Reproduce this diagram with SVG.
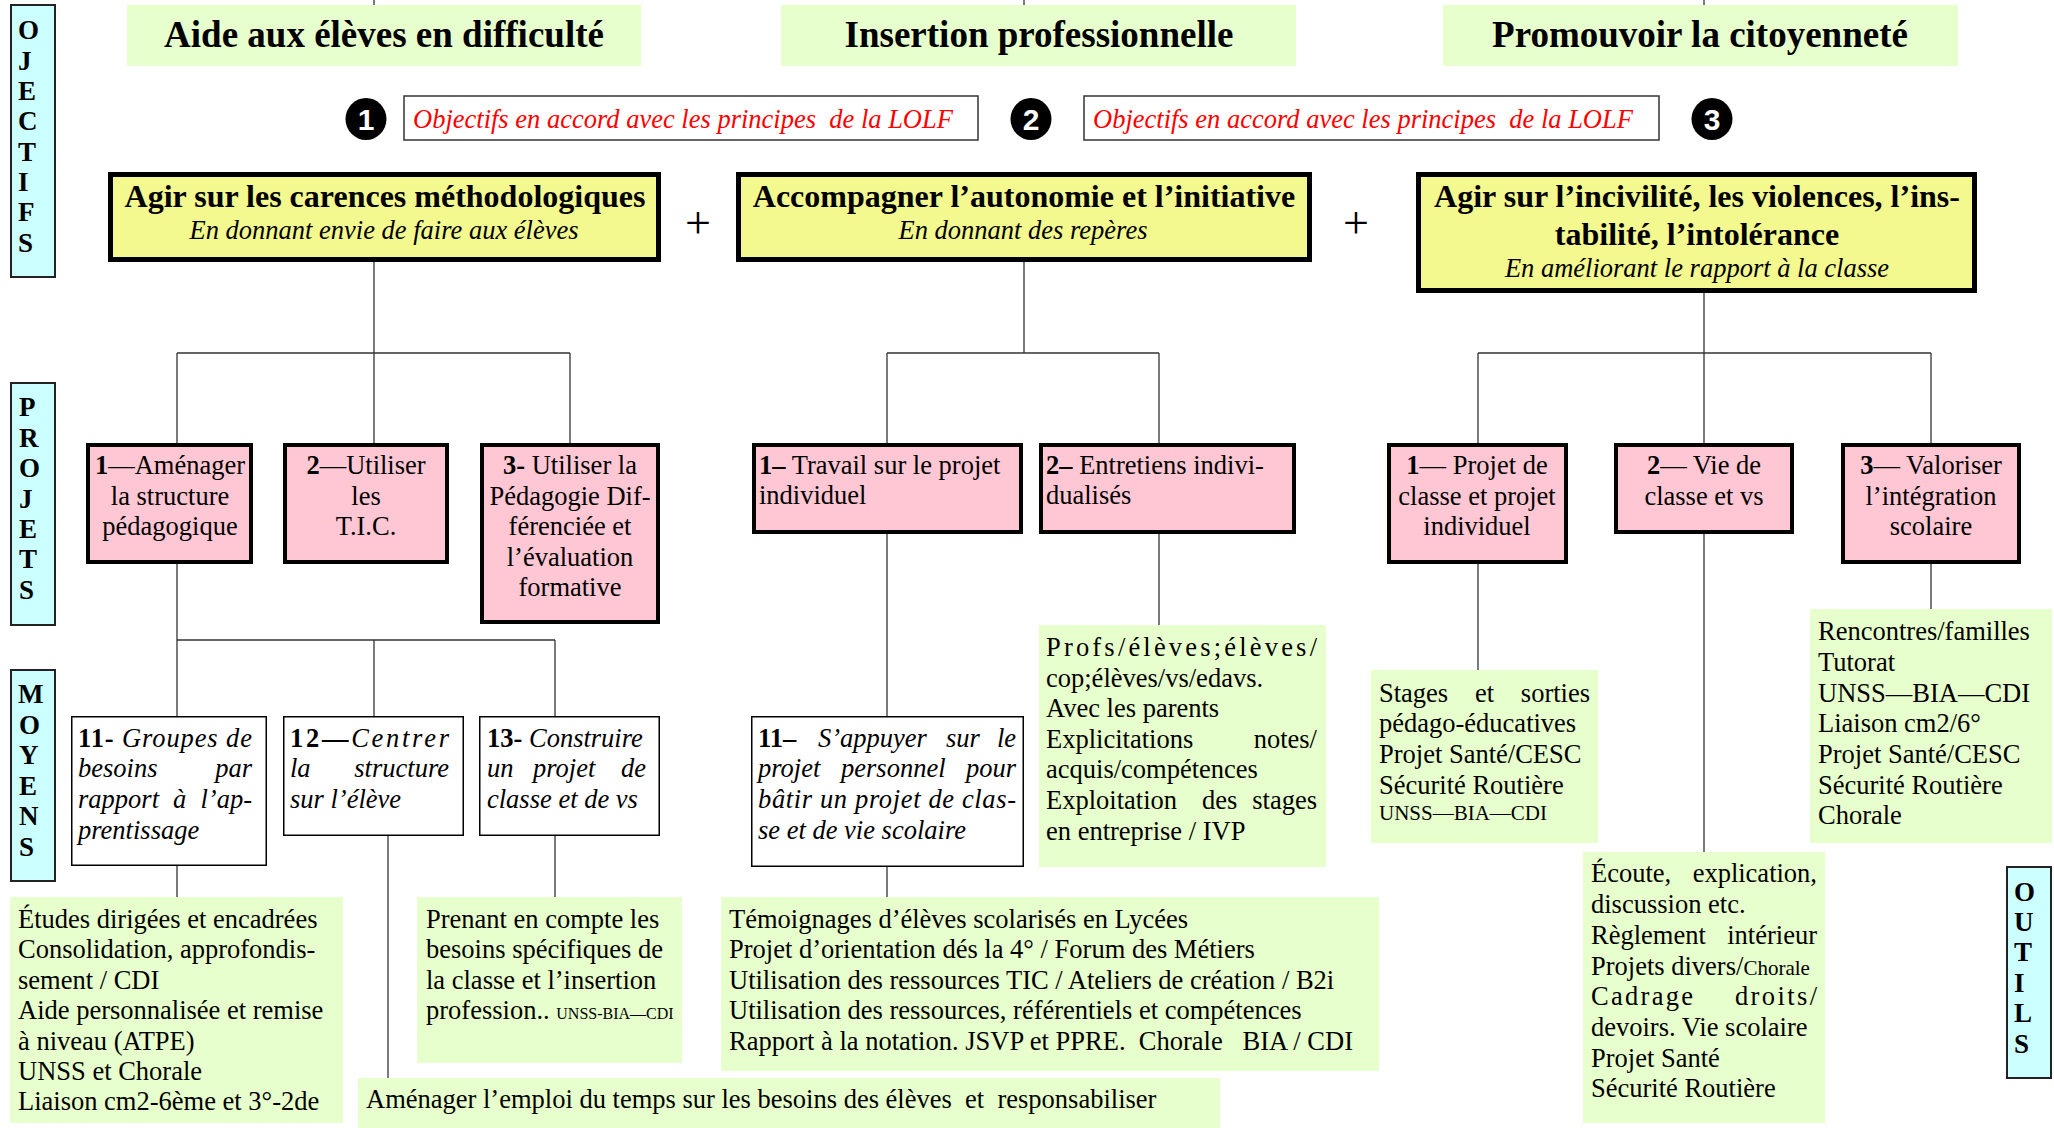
<svg xmlns="http://www.w3.org/2000/svg" width="2054" height="1128" viewBox="0 0 2054 1128">
<style>
text{font-family:"Liberation Serif","Times New Roman",serif;font-size:26.5px;fill:#000}
.b{font-weight:bold}
.i{font-style:italic}
.m{text-anchor:middle}
.e{text-anchor:end}
.side{font-size:27px;font-weight:bold}
.head{font-size:37px;font-weight:bold}
.ttl{font-size:32px;font-weight:bold}
.red{fill:#f00;font-style:italic}
.sm{font-size:21px}
.xs{font-size:16px}
.num{font-family:"Liberation Sans",Arial,sans-serif;font-size:30px;font-weight:bold;fill:#fff;text-anchor:middle}
.plus{font-size:46px;text-anchor:middle}
.g{fill:#E6FFCC}
.p{fill:#FFC7D3;stroke:#000;stroke-width:4}
.y{fill:#F3F98E;stroke:#000;stroke-width:5}
.w{fill:#fff;stroke:#000;stroke-width:1.5}
.r{fill:#fff;stroke:#333;stroke-width:1.5}
.cy{fill:#CCFFFF;stroke:#222;stroke-width:2}
.c line{stroke:#333;stroke-width:1.3}
</style>

<g id="connectors" class="c">
<line x1="374" y1="0" x2="374" y2="5"/>
<line x1="1024" y1="0" x2="1024" y2="5"/>
<line x1="1704" y1="0" x2="1704" y2="5"/>
<line x1="374" y1="262" x2="374" y2="443"/>
<line x1="177" y1="353" x2="570" y2="353"/>
<line x1="177" y1="353" x2="177" y2="443"/>
<line x1="570" y1="353" x2="570" y2="443"/>
<line x1="177" y1="564" x2="177" y2="716"/>
<line x1="177" y1="640" x2="555" y2="640"/>
<line x1="374" y1="640" x2="374" y2="716"/>
<line x1="555" y1="640" x2="555" y2="716"/>
<line x1="177" y1="866" x2="177" y2="897"/>
<line x1="388" y1="836" x2="388" y2="1078"/>
<line x1="555" y1="836" x2="555" y2="897"/>
<line x1="1024" y1="262" x2="1024" y2="353"/>
<line x1="887" y1="353" x2="1159" y2="353"/>
<line x1="887" y1="353" x2="887" y2="443"/>
<line x1="1159" y1="353" x2="1159" y2="443"/>
<line x1="887" y1="534" x2="887" y2="716"/>
<line x1="887" y1="867" x2="887" y2="897"/>
<line x1="1159" y1="534" x2="1159" y2="625"/>
<line x1="1704" y1="293" x2="1704" y2="443"/>
<line x1="1478" y1="353" x2="1931" y2="353"/>
<line x1="1478" y1="353" x2="1478" y2="443"/>
<line x1="1931" y1="353" x2="1931" y2="443"/>
<line x1="1478" y1="564" x2="1478" y2="670"/>
<line x1="1704" y1="534" x2="1704" y2="852"/>
<line x1="1931" y1="564" x2="1931" y2="609"/>
</g>

<!-- side labels -->
<g id="lbl-objectifs">
<rect class="cy" x="11" y="5" width="44" height="272"/>
<text class="side"><tspan x="18" y="39">O</tspan><tspan x="18" y="69.5">J</tspan><tspan x="18" y="100">E</tspan><tspan x="18" y="130">C</tspan><tspan x="18" y="160.5">T</tspan><tspan x="18" y="191">I</tspan><tspan x="18" y="221">F</tspan><tspan x="18" y="252">S</tspan></text>
</g>
<g id="lbl-projets">
<rect class="cy" x="11" y="383" width="44" height="242"/>
<text class="side"><tspan x="19" y="416">P</tspan><tspan x="19" y="447">R</tspan><tspan x="19" y="477">O</tspan><tspan x="19" y="508">J</tspan><tspan x="19" y="538">E</tspan><tspan x="19" y="568">T</tspan><tspan x="19" y="599">S</tspan></text>
</g>
<g id="lbl-moyens">
<rect class="cy" x="11" y="670" width="44" height="211"/>
<text class="side"><tspan x="18" y="703">M</tspan><tspan x="19" y="734">O</tspan><tspan x="19" y="764">Y</tspan><tspan x="19" y="795">E</tspan><tspan x="19" y="825">N</tspan><tspan x="19" y="856">S</tspan></text>
</g>
<g id="lbl-outils">
<rect class="cy" x="2007" y="867" width="44" height="211"/>
<text class="side"><tspan x="2014" y="901">O</tspan><tspan x="2014" y="931">U</tspan><tspan x="2014" y="961">T</tspan><tspan x="2014" y="992">I</tspan><tspan x="2014" y="1022">L</tspan><tspan x="2014" y="1053">S</tspan></text>
</g>

<!-- headlines -->
<g id="obj-aide"><rect class="g" x="127" y="5" width="514" height="61"/><text class="head m" x="384" y="47">Aide aux élèves en difficulté</text></g>
<g id="obj-insertion"><rect class="g" x="781" y="5" width="515" height="61"/><text class="head m" x="1039" y="47">Insertion professionnelle</text></g>
<g id="obj-citoyennete"><rect class="g" x="1443" y="5" width="515" height="61"/><text class="head m" x="1700" y="47">Promouvoir la citoyenneté</text></g>

<!-- numbered markers and LOLF boxes -->
<g id="num-1"><ellipse cx="366" cy="119" rx="20.5" ry="21"/><text class="num" x="366" y="130">1</text></g>
<g id="num-2"><ellipse cx="1031" cy="119" rx="20.5" ry="21"/><text class="num" x="1031" y="130">2</text></g>
<g id="num-3"><ellipse cx="1712" cy="119" rx="20.5" ry="21"/><text class="num" x="1712" y="130">3</text></g>
<g id="lolf-1"><rect class="r" x="404" y="96" width="574" height="44"/><text class="red" x="413" y="128" xml:space="preserve">Objectifs en accord avec les principes  de la LOLF</text></g>
<g id="lolf-2"><rect class="r" x="1084" y="96" width="575" height="44"/><text class="red" x="1093" y="128" xml:space="preserve">Objectifs en accord avec les principes  de la LOLF</text></g>

<!-- yellow objective boxes -->
<g id="goal-1">
<rect class="y" x="110.5" y="174.5" width="548" height="85"/>
<text class="ttl m" x="385" y="207">Agir sur les carences méthodologiques</text>
<text class="i m" x="384" y="239">En donnant envie de faire aux élèves</text>
</g>
<g id="plus-1"><text class="plus" x="698" y="238">+</text></g>
<g id="goal-2">
<rect class="y" x="738.5" y="174.5" width="571" height="85"/>
<text class="ttl m" x="1024" y="207">Accompagner l’autonomie et l’initiative</text>
<text class="i m" x="1023" y="239">En donnant des repères</text>
</g>
<g id="plus-2"><text class="plus" x="1356" y="238">+</text></g>
<g id="goal-3">
<rect class="y" x="1418.5" y="174.5" width="556" height="116"/>
<text class="ttl m" x="1697" y="207">Agir sur l’incivilité, les violences, l’ins-</text>
<text class="ttl m" x="1697" y="245">tabilité, l’intolérance</text>
<text class="i m" x="1697" y="277">En améliorant le rapport à la classe</text>
</g>

<!-- projets: left -->
<g id="proj-1-1">
<rect class="p" x="88" y="445" width="163" height="117"/>
<text class="m" x="170" y="474"><tspan class="b">1</tspan>—Aménager</text>
<text class="m" x="170" y="505">la structure</text>
<text class="m" x="170" y="535">pédagogique</text>
</g>
<g id="proj-1-2">
<rect class="p" x="285" y="445" width="162" height="117"/>
<text class="m" x="366" y="474"><tspan class="b">2</tspan>—Utiliser</text>
<text class="m" x="366" y="505">les</text>
<text class="m" x="366" y="535">T.I.C.</text>
</g>
<g id="proj-1-3">
<rect class="p" x="482" y="445" width="176" height="177"/>
<text class="m" x="570" y="474"><tspan class="b">3-</tspan> Utiliser la</text>
<text class="m" x="570" y="505">Pédagogie Dif-</text>
<text class="m" x="570" y="535">férenciée et</text>
<text class="m" x="570" y="566">l’évaluation</text>
<text class="m" x="570" y="596">formative</text>
</g>

<!-- projets: middle -->
<g id="proj-2-1">
<rect class="p" x="754" y="445" width="267" height="87"/>
<text x="759" y="474"><tspan class="b">1–</tspan> Travail sur le projet</text>
<text x="759" y="504">individuel</text>
</g>
<g id="proj-2-2">
<rect class="p" x="1041" y="445" width="253" height="87"/>
<text x="1046" y="474"><tspan class="b">2–</tspan> Entretiens indivi-</text>
<text x="1046" y="504">dualisés</text>
</g>

<!-- projets: right -->
<g id="proj-3-1">
<rect class="p" x="1389" y="445" width="177" height="117"/>
<text class="m" x="1477" y="474"><tspan class="b">1</tspan>— Projet de</text>
<text class="m" x="1477" y="505">classe et projet</text>
<text class="m" x="1477" y="535">individuel</text>
</g>
<g id="proj-3-2">
<rect class="p" x="1616" y="445" width="176" height="87"/>
<text class="m" x="1704" y="474"><tspan class="b">2</tspan>— Vie de</text>
<text class="m" x="1704" y="505">classe et vs</text>
</g>
<g id="proj-3-3">
<rect class="p" x="1843" y="445" width="176" height="117"/>
<text class="m" x="1931" y="474"><tspan class="b">3</tspan>— Valoriser</text>
<text class="m" x="1931" y="505">l’intégration</text>
<text class="m" x="1931" y="535">scolaire</text>
</g>

<!-- moyens: left -->
<g id="moy-11">
<rect class="w" x="71.75" y="716.75" width="194.5" height="148.5"/>
<text x="78" y="747" textLength="174" lengthAdjust="spacing"><tspan class="b">11-</tspan><tspan class="i"> Groupes de</tspan></text>
<text class="i" x="78" y="777">besoins</text><text class="i e" x="252" y="777">par</text>
<text class="i" x="78" y="808">rapport</text><text class="i" x="173" y="808">à</text><text class="i e" x="252" y="808">l’ap-</text>
<text class="i" x="78" y="839">prentissage</text>
</g>
<g id="moy-12">
<rect class="w" x="283.75" y="716.75" width="179.5" height="118.5"/>
<text x="290" y="747" textLength="159" lengthAdjust="spacing"><tspan class="b">12—</tspan><tspan class="i">Centrer</tspan></text>
<text class="i" x="290" y="777">la</text><text class="i e" x="449" y="777">structure</text>
<text class="i" x="290" y="808">sur l’élève</text>
</g>
<g id="moy-13">
<rect class="w" x="479.75" y="716.75" width="179.5" height="118.5"/>
<text x="487" y="747"><tspan class="b">13-</tspan><tspan class="i"> Construire</tspan></text>
<text class="i" x="487" y="777">un</text><text class="i" x="533" y="777">projet</text><text class="i e" x="646" y="777">de</text>
<text class="i" x="487" y="808">classe et de vs</text>
</g>

<!-- moyens: middle -->
<g id="moy-21">
<rect class="w" x="751.75" y="716.75" width="271.5" height="149.5"/>
<text class="b" x="758" y="747">11–</text><text class="i" x="818" y="747">S’appuyer</text><text class="i" x="946" y="747">sur</text><text class="i e" x="1016" y="747">le</text>
<text class="i" x="758" y="777">projet</text><text class="i" x="841" y="777">personnel</text><text class="i e" x="1016" y="777">pour</text>
<text class="i" x="758" y="808" textLength="258" lengthAdjust="spacing">bâtir un projet de clas-</text>
<text class="i" x="758" y="839">se et de vie scolaire</text>
</g>

<!-- outils (green boxes) -->
<g id="out-11">
<rect class="g" x="10" y="897" width="333" height="226"/>
<text x="18" y="928">Études dirigées et encadrées</text>
<text x="18" y="958.4">Consolidation, approfondis-</text>
<text x="18" y="988.8">sement / CDI</text>
<text x="18" y="1019.2">Aide personnalisée et remise</text>
<text x="18" y="1049.6">à niveau (ATPE)</text>
<text x="18" y="1080">UNSS et Chorale</text>
<text x="18" y="1110.4">Liaison cm2-6ème et 3°-2de</text>
</g>
<g id="out-13">
<rect class="g" x="417" y="897" width="265" height="166"/>
<text x="426" y="928">Prenant en compte les</text>
<text x="426" y="958.4">besoins spécifiques de</text>
<text x="426" y="988.8">la classe et l’insertion</text>
<text x="426" y="1019.2">profession.. <tspan class="xs">UNSS-BIA—CDI</tspan></text>
</g>
<g id="out-12">
<rect class="g" x="358" y="1078" width="862" height="50"/>
<text x="366" y="1108" xml:space="preserve">Aménager l’emploi du temps sur les besoins des élèves  et  responsabiliser</text>
</g>
<g id="out-21">
<rect class="g" x="721" y="897" width="658" height="174"/>
<text x="729" y="928">Témoignages d’élèves scolarisés en Lycées</text>
<text x="729" y="958.4">Projet d’orientation dés la 4° / Forum des Métiers</text>
<text x="729" y="988.8">Utilisation des ressources TIC / Ateliers de création / B2i</text>
<text x="729" y="1019.2">Utilisation des ressources, référentiels et compétences</text>
<text x="729" y="1049.6" xml:space="preserve">Rapport à la notation. JSVP et PPRE.  Chorale   BIA / CDI</text>
</g>
<g id="out-22">
<rect class="g" x="1039" y="625" width="287" height="242"/>
<text x="1046" y="656" textLength="271" lengthAdjust="spacing">Profs/élèves;élèves/</text>
<text x="1046" y="687">cop;élèves/vs/edavs.</text>
<text x="1046" y="717">Avec les parents</text>
<text x="1046" y="748">Explicitations</text><text class="e" x="1317" y="748">notes/</text>
<text x="1046" y="778">acquis/compétences</text>
<text x="1046" y="809">Exploitation</text><text x="1202" y="809">des</text><text class="e" x="1317" y="809">stages</text>
<text x="1046" y="840">en entreprise / IVP</text>
</g>
<g id="out-31">
<rect class="g" x="1371" y="670" width="227" height="173"/>
<text x="1379" y="702">Stages</text><text x="1475" y="702">et</text><text class="e" x="1590" y="702">sorties</text>
<text x="1379" y="732">pédago-éducatives</text>
<text x="1379" y="763">Projet Santé/CESC</text>
<text x="1379" y="794">Sécurité Routière</text>
<text class="sm" x="1379" y="820">UNSS—BIA—CDI</text>
</g>
<g id="out-32">
<rect class="g" x="1583" y="852" width="242" height="271"/>
<text x="1591" y="882">Écoute,</text><text class="e" x="1817" y="882">explication,</text>
<text x="1591" y="913">discussion etc.</text>
<text x="1591" y="944">Règlement</text><text class="e" x="1817" y="944">intérieur</text>
<text x="1591" y="975">Projets divers/<tspan class="sm">Chorale</tspan></text>
<text x="1591" y="1005" textLength="102" lengthAdjust="spacing">Cadrage</text><text x="1735" y="1005" textLength="82" lengthAdjust="spacing">droits/</text>
<text x="1591" y="1036">devoirs. Vie scolaire</text>
<text x="1591" y="1067">Projet Santé</text>
<text x="1591" y="1097">Sécurité Routière</text>
</g>
<g id="out-33">
<rect class="g" x="1810" y="609" width="242" height="234"/>
<text x="1818" y="640">Rencontres/familles</text>
<text x="1818" y="671">Tutorat</text>
<text x="1818" y="702">UNSS—BIA—CDI</text>
<text x="1818" y="732">Liaison cm2/6°</text>
<text x="1818" y="763">Projet Santé/CESC</text>
<text x="1818" y="794">Sécurité Routière</text>
<text x="1818" y="824">Chorale</text>
</g>
</svg>
